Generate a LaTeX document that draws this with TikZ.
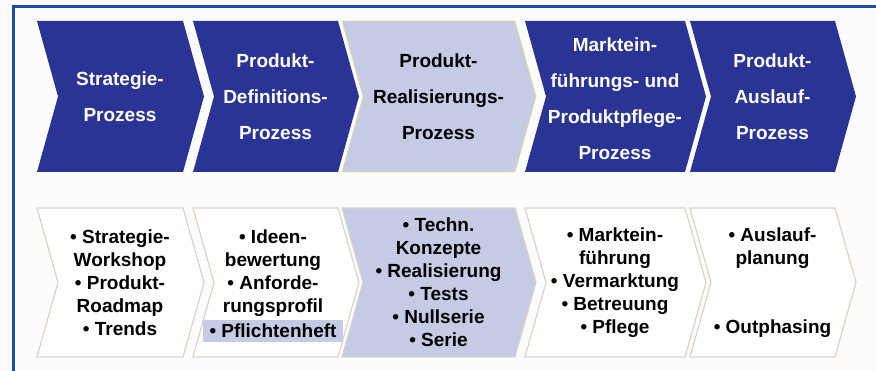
\documentclass[tikz,border=0pt]{standalone}
\usepackage{fontspec}
\setmainfont{Liberation Sans}
\usepackage{tikz}
\definecolor{dunkelblau}{RGB}{42,52,148}
\definecolor{lila}{RGB}{197,203,229}
\definecolor{gelbrand}{RGB}{226,222,150}
\definecolor{grau}{RGB}{218,211,204}
\definecolor{rahmen}{RGB}{28,78,162}
\definecolor{papier}{RGB}{252,252,252}
\tikzset{kopf/.style={fill=dunkelblau},
         kopfhell/.style={fill=lila,draw=gelbrand,line width=0.8pt},
         fuss/.style={fill=white,draw=grau,line width=1.2pt},
         fusshell/.style={fill=lila,draw=grau,line width=1.2pt},
         ktext/.style={align=center,inner sep=0pt,text=white,font=\bfseries\fontsize{19}{36}\selectfont},
         ftext/.style={align=center,inner sep=0pt,font=\bfseries\fontsize{19}{23}\selectfont}}
\newcommand{\chevron}[5]{\path[#1] (#2,#4) -- (#3,#4) -- (#3+21,#4+#5/2) -- (#3,#4+#5) -- (#2,#4+#5) -- (#2+21,#4+#5/2) -- cycle;}

\begin{document}
\begin{tikzpicture}[x=1pt,y=1pt]
            \fill[papier] (0,0) rectangle (876,371);
            \useasboundingbox (0,0) rectangle (876,371);
            \draw[rahmen, line width=3pt] (13,0) -- (13,364) -- (876,364);

            \chevron{kopf}{37}{183}{199}{151}
            \chevron{kopf}{193}{338}{199}{151}
            \chevron{kopfhell}{342}{515}{199}{151}
            \chevron{kopf}{525}{685}{199}{151}
            \chevron{kopf}{690}{835}{199}{151}

            \chevron{fuss}{37}{183}{14}{149}
            \chevron{fuss}{193}{338}{14}{149}
            \chevron{fusshell}{342}{515}{14}{149}
            \chevron{fuss}{525}{685}{14}{149}
            \chevron{fuss}{690}{835}{14}{149}

            \node[ktext] (strategie) at (120,274.5) {Strategie-\\Prozess};
            \node[ktext] (definition) at (275.5,274.5) {Produkt-\\Definitions-\\Prozess};
            \node[ktext, text=black] (realisierung) at (438.5,274.5) {Produkt-\\Realisierungs-\\Prozess};
            \node[ktext] (markt) at (615,272) {Marktein-\\führungs- und\\Produktpflege-\\Prozess};
            \node[ktext] (auslauf) at (772.5,274.5) {Produkt-\\Auslauf-\\Prozess};

            \node[ftext] (workshop) at (120,88.5) {• Strategie-\\Workshop\\• Produkt-\\Roadmap\\• Trends};
            \node[ftext] (ideen) at (273,98) {• Ideen-\\bewertung\\• Anforde-\\rungsprofil};
            \node[ftext, fill=lila, minimum width=140pt, minimum height=22pt] (pflicht) at (273,40) {• Pflichtenheft};
            \node[ftext] (konzepte) at (438.5,88.5) {• Techn.\\Konzepte\\• Realisierung\\• Tests\\• Nullserie\\• Serie};
            \node[ftext] (vermarktung) at (615,88.5) {• Marktein-\\führung\\• Vermarktung\\• Betreuung\\• Pflege};
            \node[ftext] (outphasing) at (772.5,88.5) {• Auslauf-\\planung\\[46pt]• Outphasing};
\end{tikzpicture}
\end{document}
